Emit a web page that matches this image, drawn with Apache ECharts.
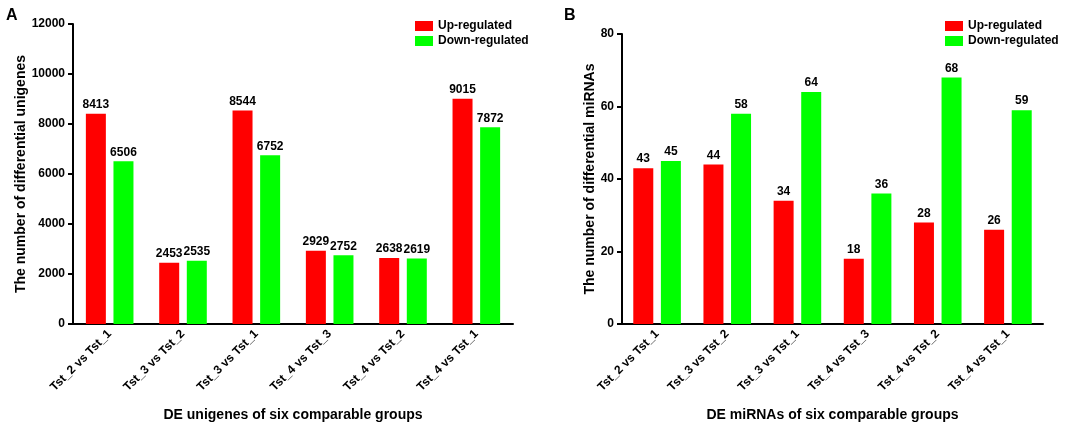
<!DOCTYPE html>
<html>
<head>
<meta charset="utf-8">
<script src="https://cdn.jsdelivr.net/npm/echarts@6/dist/echarts.min.js"></script>
<style>
  html, body { margin: 0; padding: 0; background: #fff; }
  #chart { width: 1084px; height: 427px; }
</style>
</head>
<body>
<div id="chart"></div>
<script>
var groups = ['Tst_2 vs Tst_1', 'Tst_3 vs Tst_2', 'Tst_3 vs Tst_1', 'Tst_4 vs Tst_3', 'Tst_4 vs Tst_2', 'Tst_4 vs Tst_1'];
var unigenesUp = [8413, 2453, 8544, 2929, 2638, 9015];
var unigenesDown = [6506, 2535, 6752, 2752, 2619, 7872];
var mirnaUp = [43, 44, 34, 18, 28, 26];
var mirnaDown = [45, 58, 64, 36, 68, 59];

var font = 'Liberation Sans, Arial, sans-serif';
var red = '#ff0000';
var green = '#00ff00';

function xAxisFor(gridIndex, title) {
  return {
    type: 'category',
    gridIndex: gridIndex,
    data: groups,
    name: title,
    nameLocation: 'middle',
    nameGap: 84,
    nameTextStyle: { fontFamily: font, fontWeight: 'bold', fontSize: 14, color: '#000' },
    axisLine: { lineStyle: { color: '#000', width: 2 } },
    axisTick: { alignWithLabel: true, length: 5, lineStyle: { color: '#000', width: 2 } },
    axisLabel: { rotate: 45, margin: 8, fontFamily: font, fontWeight: 'bold', fontSize: 12, color: '#000' }
  };
}

function yAxisFor(gridIndex, max, step, title, gap) {
  return {
    type: 'value',
    gridIndex: gridIndex,
    min: 0,
    max: max,
    interval: step,
    name: title,
    nameLocation: 'middle',
    nameGap: gap,
    nameTextStyle: { fontFamily: font, fontWeight: 'bold', fontSize: 14, color: '#000' },
    splitLine: { show: false },
    axisLine: { show: true, lineStyle: { color: '#000', width: 2 } },
    axisTick: { show: true, length: 5, lineStyle: { color: '#000', width: 2 } },
    axisLabel: {
      margin: 8,
      fontFamily: font, fontWeight: 'bold', fontSize: 12, color: '#000',
      formatter: function (v) { return String(v); }
    }
  };
}

function barSeries(name, data, axisIndex, color) {
  return {
    name: name,
    type: 'bar',
    xAxisIndex: axisIndex,
    yAxisIndex: axisIndex,
    data: data,
    barWidth: 20,
    barGap: '38%',
    itemStyle: { color: color },
    label: { show: true, position: 'top', distance: 3, fontFamily: font, fontWeight: 'bold', fontSize: 12, color: '#000' }
  };
}

var legendStyle = {
  orient: 'vertical',
  itemWidth: 18,
  itemHeight: 10,
  itemGap: 3,
  textStyle: { fontFamily: font, fontWeight: 'bold', fontSize: 12, color: '#000' },
  data: [
    { name: 'Up-regulated', icon: 'rect' },
    { name: 'Down-regulated', icon: 'rect' }
  ]
};

var chart = echarts.init(document.getElementById('chart'));
var option = {
  animation: false,
  title: [
    { text: 'A', left: 1, top: 3, textStyle: { fontFamily: font, fontWeight: 'bold', fontSize: 16, color: '#000' } },
    { text: 'B', left: 559, top: 3, textStyle: { fontFamily: font, fontWeight: 'bold', fontSize: 16, color: '#000' } }
  ],
  legend: [
    Object.assign({ left: 410, top: 15 }, legendStyle),
    Object.assign({ left: 940, top: 15 }, legendStyle)
  ],
  grid: [
    { left: 73, top: 24, width: 440, height: 303 },
    { left: 622, top: 34, width: 421, height: 293 }
  ],
  xAxis: [
    xAxisFor(0, 'DE unigenes of six comparable groups'),
    xAxisFor(1, 'DE miRNAs of six comparable groups')
  ],
  yAxis: [
    yAxisFor(0, 12000, 2000, 'The number of differential unigenes', 44),
    yAxisFor(1, 80, 20, 'The number of differential miRNAs', 25)
  ],
  series: [
    barSeries('Up-regulated', unigenesUp, 0, red),
    barSeries('Down-regulated', unigenesDown, 0, green),
    barSeries('Up-regulated', mirnaUp, 1, red),
    barSeries('Down-regulated', mirnaDown, 1, green)
  ]
};
chart.setOption(option);
</script>
</body>
</html>
